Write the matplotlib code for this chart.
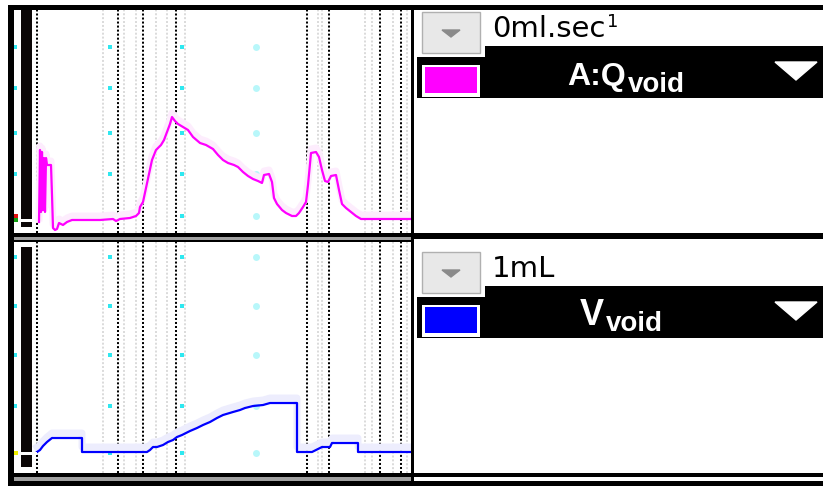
import numpy as np
import matplotlib
matplotlib.use('Agg')
from matplotlib import pyplot as plt
from matplotlib.patches import Rectangle, Polygon

# --- data (time in s) ---
# flow trace A:Qvoid (ml/s)
flow_t = [12.5, 13, 13.5, 14, 14.5, 15, 15.5, 16, 16.5, 18.5, 19, 19.5, 20.5, 21.5, 22.5,
          24.5, 26.5, 29, 43, 49.5, 51, 53, 58, 61, 62.5, 63, 64.5, 66, 67.5, 69, 71,
          73.5, 75, 76.5, 78, 79, 80.5, 82, 84.5, 87, 89.5, 93, 96, 99.5, 102, 104.5,
          107, 110, 112, 114.5, 117, 119.5, 122, 124, 125, 127.5, 129, 130, 131.5, 134,
          136, 139, 141, 142.5, 144.5, 146, 147, 148.5, 151, 152.5, 154, 155.5, 157,
          158.5, 161, 162.5, 164, 166, 168.5, 171, 173.5, 183, 193, 198.5]
flow_q = [0, 18, 2.5, 17.5, 3, 16, 2.5, 16, 14.25, 14.25, 6.75, -1.5, -2, -1.75, -0.25,
          -0.75, 0, 0.5, 0.5, 0.75, 0.25, 0.75, 1, 1.5, 2.25, 3.75, 5, 8.5, 12, 15.5, 18,
          19.25, 20.5, 22.5, 24.5, 26.25, 25.25, 24.5, 23.75, 23, 21.25, 19.75, 19.25,
          18.25, 16.75, 15.5, 14.75, 14.25, 13.75, 12.5, 11.5, 10.75, 10.25, 9.75, 11.75,
          12, 10, 6, 4.5, 3, 2.25, 1.5, 1.5, 2.25, 3.75, 5, 9.25, 17.25, 17.5, 16.25, 13,
          10.25, 10, 11.5, 11.75, 8, 4.5, 3.5, 2.5, 1.5, 0.75, 0.75, 0.75, 0.75]

# volume trace Vvoid (mL)
vol_t = [11.5, 13, 14.5, 16.5, 19, 34, 34, 66.5, 68, 69.5, 71.5, 74.5, 77, 79.5, 81.5,
         84, 88, 91.5, 94.5, 98, 101.5, 104.5, 109.5, 113, 115.5, 119.5, 124.5, 128,
         141.5, 141.5, 149, 151, 154, 158, 159, 172, 172, 198.5]
vol_v = [0, 8, 24, 40, 56, 56, 0, 0, 8, 20, 20, 28, 40, 48, 60, 68, 84, 96, 108, 120,
         136, 148, 160, 168, 176, 184, 188, 196, 196, 0, 0, 8, 20, 20, 36, 36, 0, 0]

# event markers (s)
events = [11.5, 52, 64.5, 81, 146.5, 157.5, 183, 193.5]
ghost_events = [44.5, 55, 61, 71, 76.5, 85.5, 152, 154, 175.5, 179, 189.5, 196.5]

# cyan grid dots
grid_t = [0.5, 48, 84, 121]
grid_q = [43.75, 33.5, 22.25, 12, 1.5]
grid_v = [780, 584, 388, 184, -4]

W, H = 823, 486
fig = plt.figure(figsize=(W / 100, H / 100), dpi=100)
fig.patch.set_facecolor('white')


def px_axes(x0, y0, x1, y1):
    return fig.add_axes([x0 / W, 1 - y1 / H, (x1 - x0) / W, (y1 - y0) / H])


ax1 = px_axes(14, 10, 411, 233)
ax2 = px_axes(14, 242, 411, 473)
ax1.set_xlim(0, 198.5)
ax1.set_ylim(-2.75, 53)
ax2.set_xlim(0, 198.5)
ax2.set_ylim(-84, 840)

for ax, gy in ((ax1, grid_q), (ax2, grid_v)):
    ax.set_xticks([]), ax.set_yticks([])
    for s in ax.spines.values():
        s.set_visible(False)
    for t in ghost_events:
        ax.axvline(t, color='#dadada', lw=1.4, ls=(0, (1, 1)), zorder=1)
    for t in events:
        ax.axvline(t, color='black', lw=1.45, ls=(0, (1, 1)), zorder=2)
    gx, gyy = np.meshgrid(grid_t[:3], gy)
    ax.plot(gx.ravel(), gyy.ravel(), 's', color='#2ee8f0', ms=2.2, mew=0, zorder=1)
    ax.plot([grid_t[3]] * len(gy), gy, 'o', color='#9af4f8', ms=5, mew=0, alpha=0.7, zorder=1)

# faint ghost traces behind the live ones
ax1.plot(flow_t, np.array(flow_q) + 1.0, color='#fdedfd', lw=5, zorder=3)
ax1.plot(flow_t, flow_q, color='#ff00ff', lw=1.6, zorder=4)
ax2.plot(vol_t, np.array(vol_v) + 20, color='#ededfd', lw=5, zorder=3)
ax2.plot(vol_t, vol_v, color='#0000ff', lw=1.6, zorder=4)

# overlay in screen pixels for the frame and the right hand labels
ov = fig.add_axes([0, 0, 1, 1], zorder=10)
ov.set_xlim(0, W)
ov.set_ylim(H, 0)
ov.axis('off')
ov.patch.set_visible(False)


def box(x0, y0, x1, y1, fc, ec='none', lw=0):
    ov.add_patch(Rectangle((x0, y0), x1 - x0, y1 - y0, facecolor=fc, edgecolor=ec, lw=lw))


# frame
box(8, 5, W, 10, 'black')
box(8, 5, 14, H, 'black')
box(411, 5, 414, H, 'black')
box(8, 233, W, 237, 'black')
box(14, 237, 411, 240, '#a0a0a0')
box(8, 240, 411, 242, 'black')
box(411, 237, W, 239, 'black')
box(8, 473, W, 477, 'black')
box(14, 477, 411, 481, '#a0a0a0')
box(8, 481, W, H, 'black')
box(21, 10, 32, 227, '#0b0606')
box(21, 247, 32, 467, '#0b0606')

# zero markers
box(14, 214, 18, 218, '#e01010')
box(14, 218, 18, 222, '#10a010')
box(18, 219, 33, 222, 'white')
box(14, 451, 18, 455, '#f0f000')
box(18, 452, 37, 455, 'white')

# right hand panels
panels = [(12, '#ff00ff', '0ml.sec', 'A:Q', 23, 567, 628, 92),
          (252, '#0000ff', '1mL', 'V', 26, 580, 606, 331)]
for y0, sw, unit, name, nsize, tx, sx, sy in panels:
    box(422, y0, 480, y0 + 41, '#e8e8e8', ec='#b0b0b0', lw=1)
    ov.add_patch(Polygon([(442, y0 + 18), (460, y0 + 18), (451, y0 + 25)], color='#8a8a8a'))
    box(485, y0 + 34, W, y0 + 86, 'black')
    box(417, y0 + 45, 485, y0 + 86, 'black')
    box(422, y0 + 53, 480, y0 + 85, 'white')
    box(425, y0 + 55, 477, y0 + 81, sw)
    ov.add_patch(Polygon([(775, y0 + 50), (817, y0 + 50), (796, y0 + 68)], color='white'))
    ov.text(492, y0 + 25, unit, fontsize=21, family='DejaVu Sans', va='baseline', ha='left')
    ov.text(tx, y0 + 73, name, fontsize=nsize, family='Liberation Sans', weight='bold',
            color='white', va='baseline', ha='left')
    ov.text(sx, sy, 'void', fontsize=20, family='Liberation Sans', weight='bold',
            color='white', va='baseline', ha='left')

# the superscript of ml.sec-1 (minus is hidden on screen)
ov.text(607, 27, '1', fontsize=13, family='DejaVu Sans', va='baseline', ha='left')

fig.savefig('out.png', dpi=100, facecolor='white')
